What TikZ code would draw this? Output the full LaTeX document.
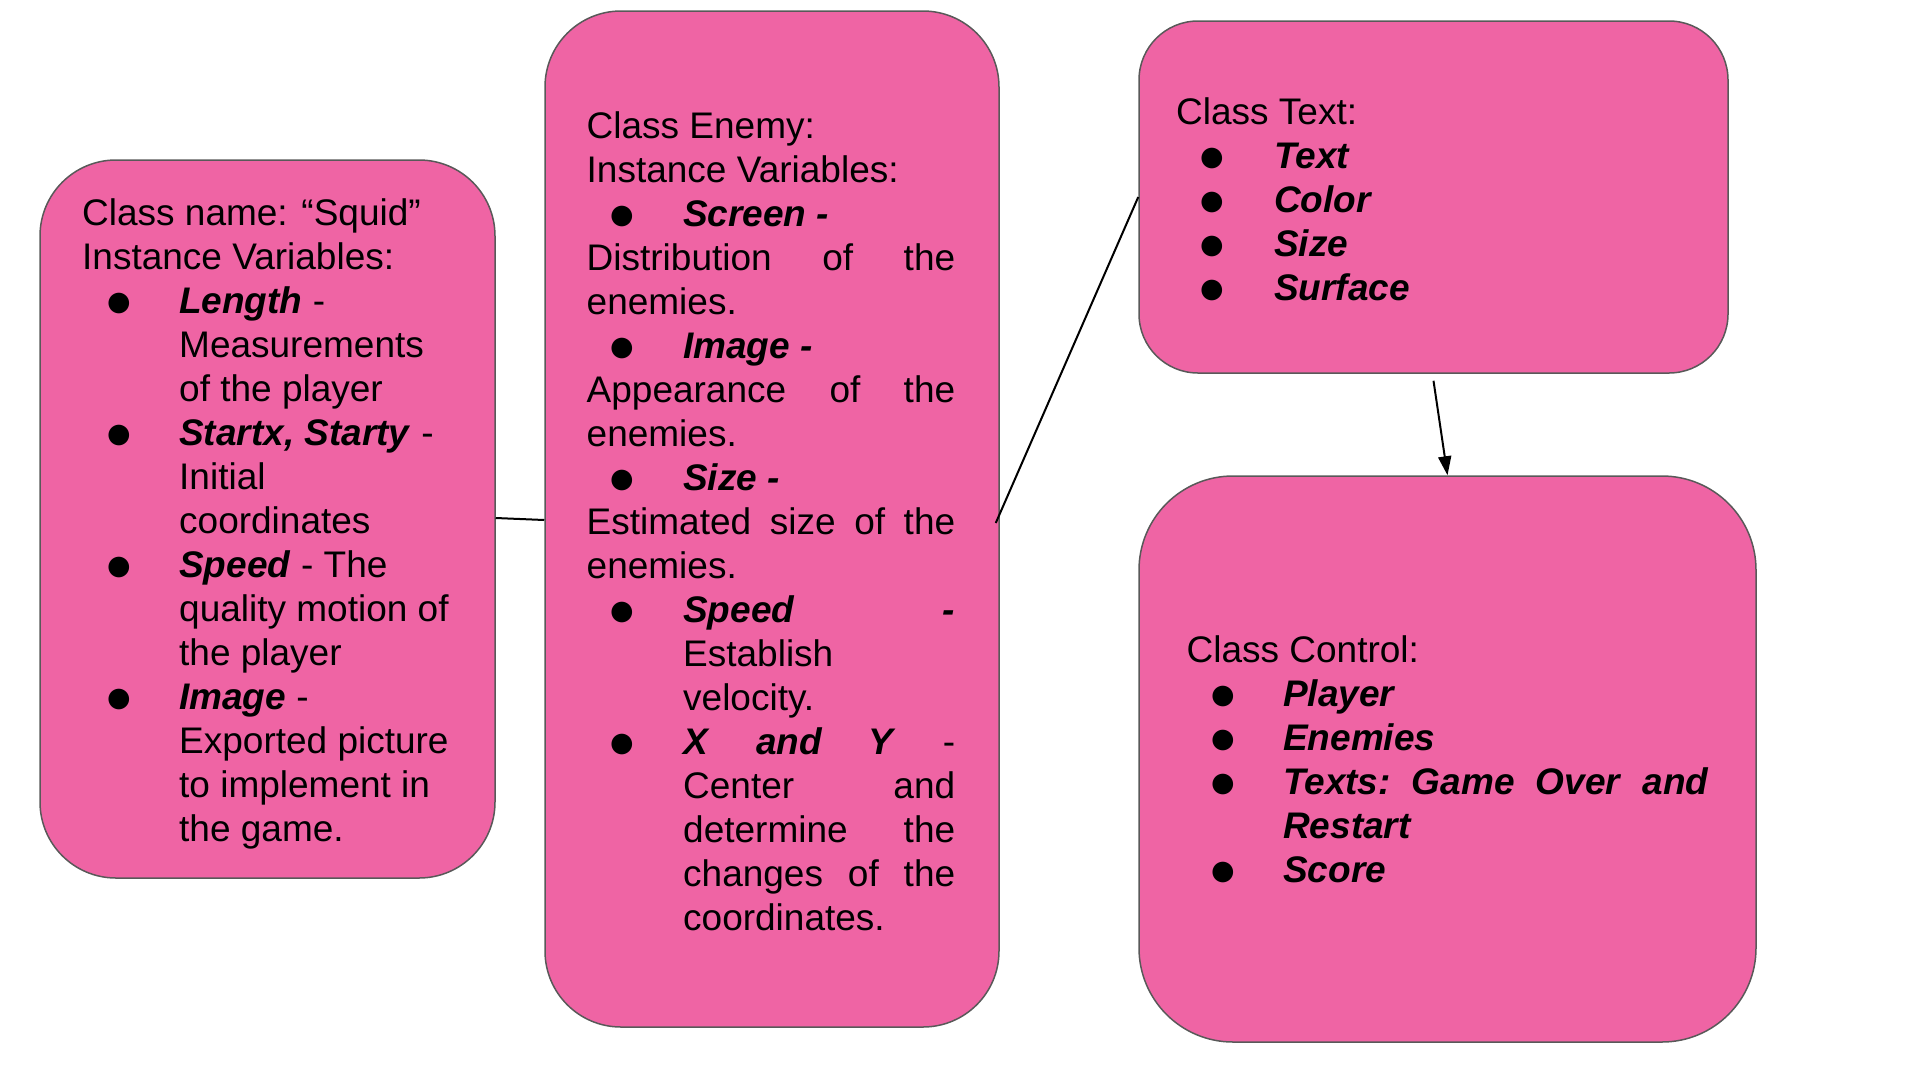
\documentclass[tikz,border=0pt]{standalone}
\usepackage{fontspec}
\setmainfont{Liberation Sans}
\newfontfamily\symfont{DejaVu Sans}
\usetikzlibrary{arrows.meta}
\definecolor{boxpink}{RGB}{239,100,164}
\definecolor{boxline}{RGB}{89,89,89}
\newcommand{\bi}[1]{\textbf{\textit{#1}}}
\newcommand{\mfs}{\fontsize{37}{44}\selectfont}
\tikzset{
  box/.style={draw=boxline, fill=boxpink, line width=1.5pt, rectangle, inner sep=0pt},
  txt/.style={anchor=base west, inner sep=0pt, font=\mfs, yshift=-1pt},
  blt/.style={anchor=base, inner sep=0pt, font=\symfont\fontsize{27}{30}\selectfont, yshift=2pt},
  conn/.style={draw=black, line width=2pt},
}
\begin{document}
\begin{tikzpicture}[x=1pt,y=-1pt]
\useasboundingbox (0,0) rectangle (1920,1080);
% boxes
\node[box, rounded corners=76pt, minimum width=455pt, minimum height=718pt] (squid) at (267.5,519) {};
\node[box, rounded corners=76pt, minimum width=454pt, minimum height=1016pt] (enemy) at (772,519) {};
\node[box, rounded corners=59pt, minimum width=589pt, minimum height=352pt] (textbox) at (1433.5,197) {};
\node[box, rounded corners=94pt, minimum width=617pt, minimum height=566pt] (control) at (1447.5,759) {};
% connectors
\draw[conn] ([yshift=1pt]squid.east) -- ([yshift=-1pt]enemy.west);
\draw[conn] ([xshift=-4pt,yshift=-4pt]enemy.east) -- (textbox.west);
\draw[conn, -{Triangle[length=19pt,width=13pt]}] ([yshift=-7pt]textbox.south) -- (control.north);
% Squid text
\node[txt] (s0) at (82,224) {Class name: “Squid”};
\node[txt] (s1) at (82,268) {Instance Variables:};
\node[blt] (sb1) at (119,312) {●};
\node[txt] (s2) at (179,312) {\bi{Length} -};
\node[txt] (s3) at (179,356) {Measurements};
\node[txt] (s4) at (179,400) {of the player};
\node[blt] (sb2) at (119,444) {●};
\node[txt] (s5) at (179,444) {\bi{Startx, Starty} -};
\node[txt] (s6) at (179,488) {Initial};
\node[txt] (s7) at (179,532) {coordinates};
\node[blt] (sb3) at (119,576) {●};
\node[txt] (s8) at (179,576) {\bi{Speed} - The};
\node[txt] (s9) at (179,620) {quality motion of};
\node[txt] (s10) at (179,664) {the player};
\node[blt] (sb4) at (119,708) {●};
\node[txt] (s11) at (179,708) {\bi{Image} -};
\node[txt] (s12) at (179,752) {Exported picture};
\node[txt] (s13) at (179,796) {to implement in};
\node[txt] (s14) at (179,840) {the game.};
% Enemy text
\node[txt] (e0) at (586.5,137) {Class Enemy:};
\node[txt] (e1) at (586.5,181) {Instance Variables:};
\node[blt] (eb1) at (622,225) {●};
\node[txt] (e2) at (683,225) {\bi{Screen -}};
\node[txt] (e3) at (586.5,269) {\hbox to 368.5pt{Distribution\hfill of\hfill the}};
\node[txt] (e4) at (586.5,313) {enemies.};
\node[blt] (eb2) at (622,357) {●};
\node[txt] (e5) at (683,357) {\bi{Image -}};
\node[txt] (e6) at (586.5,401) {\hbox to 368.5pt{Appearance\hfill of\hfill the}};
\node[txt] (e7) at (586.5,445) {enemies.};
\node[blt] (eb3) at (622,489) {●};
\node[txt] (e8) at (683,489) {\bi{Size -}};
\node[txt] (e9) at (586.5,533) {\hbox to 368.5pt{Estimated\hfill size\hfill of\hfill the}};
\node[txt] (e10) at (586.5,577) {enemies.};
\node[blt] (eb4) at (622,621) {●};
\node[txt] (e11) at (683,621) {\hbox to 272pt{\bi{Speed}\hfill\bi{-}}};
\node[txt] (e12) at (683,665) {Establish};
\node[txt] (e13) at (683,709) {velocity.};
\node[blt] (eb5) at (622,753) {●};
\node[txt] (e14) at (683,753) {\hbox to 272pt{\bi{X}\hfill\bi{and}\hfill\bi{Y}\hfill -}};
\node[txt] (e15) at (683,797) {\hbox to 272pt{Center\hfill and}};
\node[txt] (e16) at (683,841) {\hbox to 272pt{determine\hfill the}};
\node[txt] (e17) at (683,885) {\hbox to 272pt{changes\hfill of\hfill the}};
\node[txt] (e18) at (683,929) {coordinates.};
% Text class
\node[txt] (t0) at (1176,123) {Class Text:};
\node[blt] (tb1) at (1212,167) {●};
\node[txt] (t1) at (1274,167) {\bi{Text}};
\node[blt] (tb2) at (1212,211) {●};
\node[txt] (t2) at (1274,211) {\bi{Color}};
\node[blt] (tb3) at (1212,255) {●};
\node[txt] (t3) at (1274,255) {\bi{Size}};
\node[blt] (tb4) at (1212,299) {●};
\node[txt] (t4) at (1274,299) {\bi{Surface}};
% Control class
\node[txt] (c0) at (1186.5,661) {Class Control:};
\node[blt] (cb1) at (1223,705) {●};
\node[txt] (c1) at (1283,705) {\bi{Player}};
\node[blt] (cb2) at (1223,749) {●};
\node[txt] (c2) at (1283,749) {\bi{Enemies}};
\node[blt] (cb3) at (1223,793) {●};
\node[txt] (c3) at (1283,793) {\hbox to 426pt{\bi{Texts:}\hfill\bi{Game}\hfill\bi{Over}\hfill\bi{and}}};
\node[txt] (c4) at (1283,837) {\bi{Restart}};
\node[blt] (cb4) at (1223,881) {●};
\node[txt] (c5) at (1283,881) {\bi{Score}};
\end{tikzpicture}
\end{document}
